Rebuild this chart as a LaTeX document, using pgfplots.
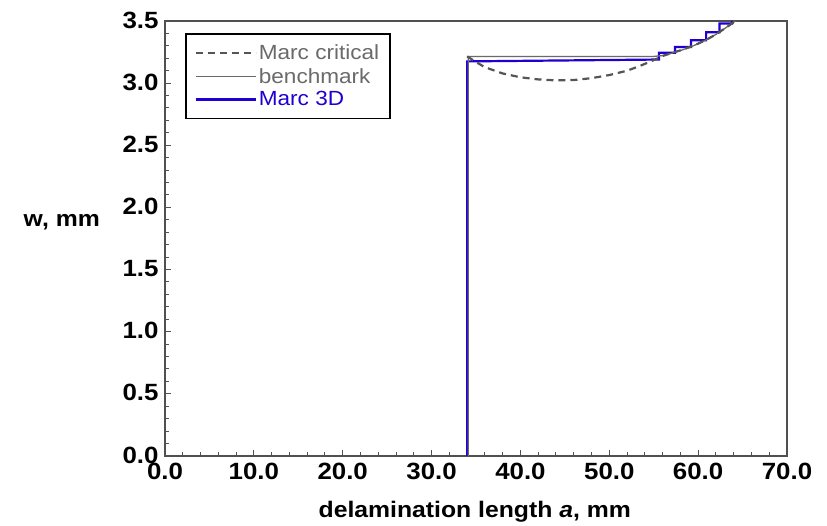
\documentclass[border=0pt]{standalone}
\usepackage{pgfplots}
\pgfplotsset{compat=1.18}
\usepackage{fontspec}
\setmainfont{Liberation Sans}[FakeStretch=1.1]
\definecolor{axgray}{HTML}{505050}
\definecolor{bgray}{HTML}{6A6A6A}
\definecolor{dgray}{HTML}{555555}
\definecolor{mblue}{HTML}{1E00D2}
\begin{document}
\begin{tikzpicture}
\path[use as bounding box] (-165pt,-70pt) rectangle (662pt,456pt);
\begin{axis}[at={(0,0)}, anchor=south west, scale only axis, width=622pt, height=435pt,
  xmin=0, xmax=70, ymin=0, ymax=3.5,
  xtick={0,10,20,30,40,50,60,70}, ytick={0,0.5,1,1.5,2,2.5,3,3.5},
  minor x tick num=4, minor y tick num=4,
  tick pos=left, tick align=inside,
  major tick length=6pt, minor tick length=4pt,
  axis line style={axgray, line width=1.6pt},
  every tick/.style={axgray, line width=1pt},
  /pgf/number format/.cd, fixed, fixed zerofill, precision=1, assume math mode=true, /pgfplots/.cd,
  ticklabel style={font=\fontsize{23.5}{27}\selectfont\bfseries},
  xticklabel style={yshift=-4pt},
  yticklabel style={xshift=-3pt, yshift=1pt},
  xlabel={delamination length \textit{a}, mm},
  ylabel={w, mm},
  xlabel style={at={(axis description cs:0.498,-0.129)}, anchor=center, font=\fontsize{22.5}{27}\selectfont\bfseries},
  ylabel style={rotate=-90, at={(axis description cs:-0.166,0.538)}, anchor=center, font=\fontsize{22.5}{27}\selectfont\bfseries},
  reverse legend,
  legend style={at={(0.032,0.972)}, anchor=north west, draw=black, line width=1.6pt,
    font=\fontsize{20.5}{24}\selectfont, row sep=3pt, inner xsep=9pt, inner ysep=9pt,
    cells={anchor=west}},
  legend image code/.code={\draw[#1] (0pt,0pt) -- (60pt,0pt);},
]
\addplot[mblue, line width=2.2pt] coordinates {
(34,0) (34,3.175) (55.6,3.19) (55.6,3.245) (57.4,3.245) (57.4,3.29) (59.2,3.29)
(59.2,3.345) (60.9,3.345) (60.9,3.41) (62.4,3.41) (62.4,3.48) (63.8,3.48) (63.8,3.5)
};
\addlegendentry{\textcolor{mblue}{Marc 3D}}
\addplot[bgray, line width=1.3pt] coordinates {
(34.12,0) (34.12,3.215) (55,3.215) (56,3.222) (57,3.24) (58,3.262) (59,3.287)
(60,3.317) (61,3.352) (62,3.392) (63,3.44) (64,3.49) (64.2,3.5)
};
\addlegendentry{\textcolor{bgray}{benchmark}}
\addplot[dgray, line width=2.2pt, dash pattern=on 7pt off 5pt] coordinates {
(34,3.215) (35,3.17) (36,3.128) (38,3.078) (40,3.047) (42,3.03) (44,3.022) (46,3.025)
(48,3.04) (50,3.065) (52,3.10) (53.5,3.14) (55,3.185) (56,3.218) (57,3.242) (58,3.264)
(59,3.289) (60,3.318) (61,3.352) (62,3.392) (63,3.44) (64,3.49) (64.2,3.5)
};
\addlegendentry{\textcolor{bgray}{Marc critical}}
\end{axis}
\end{tikzpicture}
\end{document}
